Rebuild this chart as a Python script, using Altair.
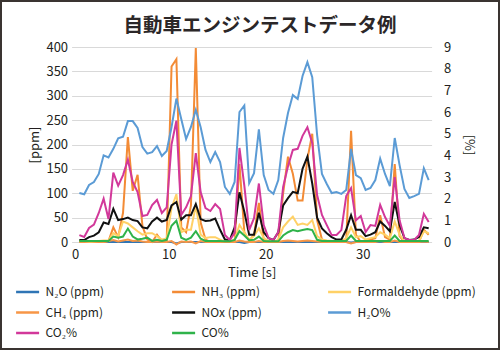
import altair as alt
import pandas as pd

FONT = "Noto Sans CJK JP"
INK = "#231f20"

title_text = "自動車エンジンテストデータ例"

time_s = [0.8, 1.3, 1.8, 2.3, 2.8, 3.3, 3.8, 4.3, 4.8, 5.3,
          5.8, 6.3, 6.8, 7.3, 7.8, 8.3, 8.8, 9.3, 9.8, 10.3,
          10.8, 11.3, 11.8, 12.3, 12.8, 13.3, 13.8, 14.3, 14.8, 15.3,
          15.8, 16.3, 16.8, 17.3, 17.8, 18.3, 18.8, 19.3, 19.8, 20.3,
          20.8, 21.3, 21.8, 22.3, 22.8, 23.3, 23.8, 24.3, 24.8, 25.3,
          25.8, 26.3, 26.8, 27.3, 27.8, 28.3, 28.8, 29.3, 29.8, 30.3,
          30.8, 31.3, 31.8, 32.3, 32.8, 33.3, 33.8, 34.3, 34.8, 35.3,
          35.8, 36.3, 36.8]

# ppm series (left axis)
n2o_ppm = [0, 0, 0, 0, 0, 0, 0, 0, 0, 0,
           0, 0, 0, 0, 0, 0, 0, 0, 0, 0,
           -3, 0, 0, 0, 0, 0, 0, 0, 0, 0,
           0, 0, 0, 0, -2, 0, 0, 0, 0, 0,
           0, 0, 0, 0, 0, 0, 0, 0, 0, 0,
           0, 0, 0, 0, 0, 0, -1, 0, 0, 0,
           0, 0, 0, 0, 0, 0, 0, 0, 0, 0,
           0, 0, 0]
nh3_ppm = [0, 0, 0, 0, 0, 0, 2, 30, 10, 60,
           215, 105, 138, 33, 5, 0, 15, 2, 2, 360,
           375, 30, 20, 75, 398, 40, 5, 0, 0, 0,
           0, 0, 0, 160, 20, 2, 15, 80, 5, 0,
           0, 0, 100, 175, 140, 85, 85, 170, 222, 45,
           5, 0, 0, 0, 0, 2, 228, 15, 0, 2,
           5, 8, 55, 10, 5, 160, 12, 0, 0, 0,
           0, 25, 15]
formaldehyde_ppm = [0, 0, 0, 1, 2, 3, 3, 18, 12, 42,
                    38, 30, 22, 15, 18, 18, 12, 5, 7, 70,
                    98, 20, 25, 25, 75, 15, 8, 10, 10, 5,
                    0, 1, 5, 35, 20, 5, 12, 28, 8, 2,
                    0, 5, 30, 42, 52, 35, 38, 35, 45, 12,
                    5, 3, 2, 1, 2, 8, 30, 10, 12, 5,
                    8, 10, 20, 15, 8, 42, 15, 2, 0, 0,
                    2, 22, 18]
ch4_ppm = [0, 0, 1, 2, 1, 0, 2, 4, 1, 3,
           5, 2, 3, 1, 0, 0, 1, 0, 0, 2,
           -5, 1, 0, 1, -3, 2, 0, 0, 0, 0,
           0, 0, 0, 3, 1, 0, 0, 2, 0, 0,
           0, 0, 2, 3, 2, 1, 2, 3, 2, 1,
           0, 0, 0, 0, 0, 0, -3, 0, 0, 0,
           0, 0, 2, 0, 0, 3, 0, 0, 0, 0,
           0, 1, 0]
nox_ppm = [4, 4, 10, 13, 20, 40, 37, 68, 45, 47,
           50, 45, 43, 30, 28, 42, 50, 42, 45, 75,
           82, 46, 55, 55, 78, 47, 43, 44, 48, 25,
           5, 4, 30, 102, 62, 15, 15, 60, 20, 8,
           4, 20, 75, 90, 103, 100, 150, 175, 120, 50,
           28, 18, 10, 5, 5, 25, 55, 25, 25, 12,
           15, 20, 42, 33, 22, 82, 35, 8, 4, 5,
           10, 30, 28]

# percent series (right axis)
h2o_pct = [2.26, 2.2, 2.63, 2.77, 3.14, 4.0, 3.9, 4.3, 4.79, 4.86,
           5.58, 5.58, 5.26, 4.38, 4.08, 4.15, 4.43, 3.97, 4.2, 5.31,
           6.62, 5.68, 4.75, 5.31, 6.1, 5.3, 4.25, 3.69, 4.15, 3.69,
           2.54, 2.22, 2.77, 6.0, 6.3, 2.72, 3.18, 5.2, 3.09, 2.4,
           2.22, 2.86, 4.8, 5.95, 6.78, 6.6, 7.66, 8.3, 7.61, 4.94,
           3.14, 2.68, 2.26, 2.31, 2.22, 2.4, 4.3, 3.09, 2.95, 2.4,
           2.49, 2.86, 3.85, 3.14, 2.58, 4.8, 3.55, 2.45, 2.03, 2.12,
           2.22, 3.4, 2.86]
co2_pct = [0.32, 0.23, 0.65, 0.8, 1.34, 2.0, 1.06, 3.2, 2.6, 3.09,
           3.8, 2.77, 2.3, 1.2, 1.25, 1.7, 1.94, 1.34, 1.6, 4.5,
           5.6, 1.25, 1.6, 2.12, 4.1, 2.3, 1.57, 1.43, 1.75, 1.52,
           0.32, 0.09, 0.42, 4.34, 2.6, 0.55, 1.1, 2.7, 0.78, 0.18,
           0.09, 0.46, 2.54, 3.5, 4.25, 4.3, 4.9, 5.3, 4.57, 2.17,
           1.25, 0.78, 0.32, 0.32, 0.55, 2.12, 2.49, 1.0, 1.2, 0.46,
           0.78, 0.74, 1.71, 1.15, 0.74, 3.0, 1.0, 0.18, 0.09, 0.09,
           0.32, 1.3, 0.92]
co_pct = [0.05, 0.05, 0.05, 0.05, 0.05, 0.05, 0.05, 0.25, 0.2, 0.25,
          0.62, 0.25, 0.12, 0.15, 0.2, 0.05, 0.1, 0.05, 0.1, 0.75,
          0.98, 0.2, 0.1, 0.2, 0.5, 0.15, 0.05, 0.05, 0.05, 0.05,
          0.03, 0.03, 0.1, 0.5, 0.3, 0.08, 0.1, 0.25, 0.05, 0.03,
          0.03, 0.03, 0.3, 0.45, 0.55, 0.5, 0.55, 0.6, 0.55, 0.1,
          0.05, 0.05, 0.05, 0.05, 0.05, 0.05, 0.3, 0.05, 0.05, 0.05,
          0.05, 0.05, 0.05, 0.05, 0.05, 0.3, 0.05, 0.05, 0.05, 0.05,
          0.05, 0.05, 0.05]

names = ["N₂O (ppm)", "NH₃ (ppm)", "Formaldehyde (ppm)", "CH₄ (ppm)",
         "NOx (ppm)", "H₂O%", "CO₂%", "CO%"]
colors = ["#2f75b5", "#f38b35", "#ffd166", "#f79646",
          "#111111", "#5b9bd5", "#d2389a", "#2fb34a"]

ppm_series = [n2o_ppm, nh3_ppm, formaldehyde_ppm, ch4_ppm, nox_ppm]
pct_series = [h2o_pct, co2_pct, co_pct]

rows_ppm = []
for i, vals in enumerate(ppm_series):
    for t, v in zip(time_s, vals):
        rows_ppm.append({"t": t, "v": v, "series": names[i]})
rows_pct = []
for j, vals in enumerate(pct_series):
    for t, v in zip(time_s, vals):
        rows_pct.append({"t": t, "v": v, "series": names[5 + j]})
df_ppm = pd.DataFrame(rows_ppm)
df_pct = pd.DataFrame(rows_pct)

color = alt.Color(
    "series:N",
    scale=alt.Scale(domain=names, range=colors),
    sort=names,
    legend=alt.Legend(
        title=None, orient="none", legendX=-57, legendY=232, columns=3,
        direction="horizontal",
        symbolType="stroke", symbolSize=530, symbolStrokeWidth=2.5,
        labelFont=FONT, labelFontSize=12, labelColor=INK, labelLimit=200,
        gridAlign="all", columnPadding=2, rowPadding=1.5, labelOffset=5,
    ),
)

x_enc = alt.X(
    "t:Q",
    scale=alt.Scale(domain=[0, 37.1], nice=False, zero=False),
    axis=alt.Axis(values=[0, 10, 20, 30], title="Time [s]", grid=False,
                  ticks=False, domain=False, labelPadding=6, titlePadding=5),
)

left = alt.Chart(df_ppm).mark_line(strokeWidth=2).encode(
    x=x_enc,
    y=alt.Y("v:Q", scale=alt.Scale(domain=[0, 400], nice=False),
            axis=alt.Axis(values=list(range(0, 401, 50)), title="[ppm]",
                          grid=True, gridColor="#d9d9d9", gridWidth=1,
                          ticks=False, domain=False, labelPadding=4,
                          titlePadding=4)),
    color=color,
    order=alt.Order("t:Q"),
)

right = alt.Chart(df_pct).mark_line(strokeWidth=2).encode(
    x=x_enc,
    y=alt.Y("v:Q", scale=alt.Scale(domain=[0, 9], nice=False),
            axis=alt.Axis(orient="right", values=list(range(0, 10)), title="[%]",
                          grid=False, ticks=False, domain=False,
                          labelPadding=12, titlePadding=11)),
    color=color,
    order=alt.Order("t:Q"),
)

one = pd.DataFrame({"a": [0]})
title_mark = alt.Chart(one).mark_text(
    text=title_text, font=FONT, fontSize=19.5, fontWeight="bold", color="#2b2728",
    align="center", baseline="middle",
).encode(x=alt.value(188.5), y=alt.value(-21.5))

frame = alt.Chart(one).mark_rect(
    filled=False, stroke="#3a3431", strokeWidth=2,
).encode(x=alt.value(-70.6), x2=alt.value(427.4), y=alt.value(-46), y2=alt.value(302))

chart = alt.layer(left, right, title_mark, frame).resolve_scale(
    y="independent"
).properties(
    width=360, height=195,
    padding={"left": 71.6, "top": 47, "right": 68.4, "bottom": 108},
    autosize=alt.AutoSizeParams(type="none"),
    background="white",
).configure_axis(
    labelFont=FONT, labelFontSize=13, labelColor=INK,
    titleFont=FONT, titleFontSize=13, titleColor=INK, titleFontWeight="normal",
).configure_view(stroke=None)

chart.save("out.html", embed_options={"renderer": "svg", "actions": False})
